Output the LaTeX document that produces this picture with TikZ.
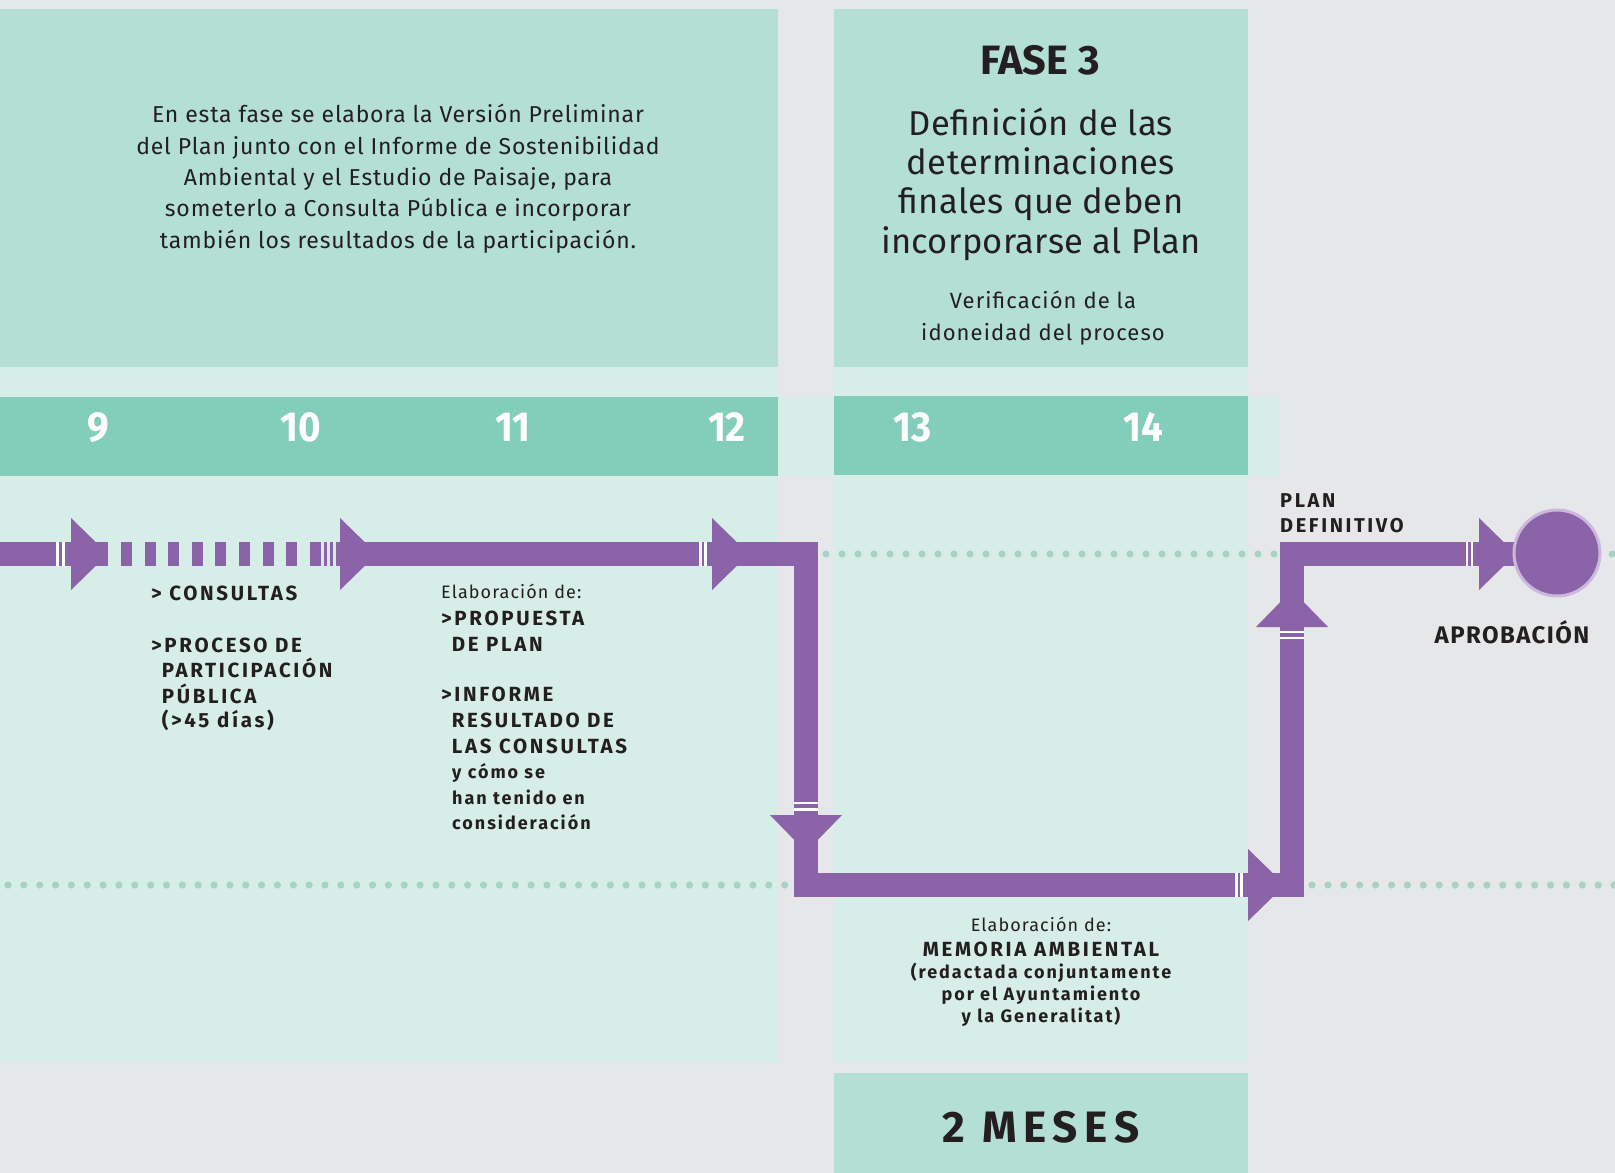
\documentclass[tikz,border=0pt]{standalone}
\usepackage{fontspec}
\setmainfont{Fira Sans}
\newfontfamily\lbl{Fira Sans}[LetterSpace=13]
\newfontfamily\lbls{Fira Sans}[LetterSpace=11]
\newfontfamily\bodyf{Fira Sans}[LetterSpace=3.5]
\newfontfamily\verf{Fira Sans}[LetterSpace=5]
\newfontfamily\bigf{Fira Sans}[LetterSpace=1]
\newfontfamily\mesf{Fira Sans}[LetterSpace=15]
\newfontfamily\elabf{Fira Sans}[LetterSpace=6]
\definecolor{bg}{HTML}{E6E7E9}
\definecolor{mint}{HTML}{B3DFD5}
\definecolor{pale}{HTML}{D7EDE7}
\definecolor{band}{HTML}{83CDBB}
\definecolor{purp}{HTML}{8A63A8}
\definecolor{lav}{HTML}{CDB8DD}
\definecolor{dotc}{HTML}{A6D4C4}
\definecolor{ink}{HTML}{231F20}
\newcommand\arrowRt[2]{\fill[purp] (#1,#2-36) -- (#1+37,#2) -- (#1,#2+36) -- cycle;}
\newcommand\arrowDn[2]{\fill[purp] (#1-36,#2) -- (#1,#2+37) -- (#1+36,#2) -- cycle;}
\newcommand\arrowUp[2]{\fill[purp] (#1-36,#2) -- (#1,#2-37) -- (#1+36,#2) -- cycle;}
\newcommand\gapV[2]{\fill[white] (#1,542) rectangle (#2,566);}
\begin{document}
\begin{tikzpicture}[x=1pt,y=-1pt,
  txt/.style={inner sep=0pt, text=ink},
  body/.style={txt, font=\fontsize{23}{31.4}\selectfont\bodyf},
  big/.style={txt, font=\fontsize{34.5}{39.4}\selectfont\bigf},
  lab/.style={txt, font=\fontsize{20.5}{25.8}\selectfont\lbl\bfseries},
  labs/.style={txt, font=\fontsize{18}{25.8}\selectfont\lbls\bfseries},
  small/.style={txt, font=\fontsize{18}{25.8}\selectfont\elabf},
  num/.style={inner sep=0pt, text=white, font=\fontsize{42}{42}\selectfont\bfseries},
  dot/.style={fill=dotc},
  flow/.style={draw=purp, line width=24pt, line join=miter}
]
\useasboundingbox (0,0) rectangle (1615,1173);
% backgrounds
\fill[bg] (0,0) rectangle (1615,1173);
\fill[mint] (0,9) rectangle (778,367);
\fill[mint] (834,9) rectangle (1248,367);
\fill[pale] (0,367) rectangle (778,1062);
\fill[pale] (834,367) rectangle (1248,1062);
\fill[pale] (778,397) rectangle (1279,476);
\fill[band] (0,397) rectangle (778,476);
\fill[band] (834,396) rectangle (1248,475);
\fill[mint] (834,1073) rectangle (1248,1173);
% dotted guides
\foreach \i in {0,...,28} \fill[dot] (826+16*\i,554) circle (3.6);
\fill[dot] (1612,554) circle (3.6);
\foreach \i in {0,...,49} \fill[dot] (8+15.85*\i,885) circle (3.6);
\foreach \i in {0,...,19} \fill[dot] (1312+15.9*\i,885) circle (3.6);
% numbers
\foreach \x/\n in {98/9, 301/10, 513/11, 727/12, 913/13, 1143/14}
  \node[num, anchor=base] (n\n) at (\x,441) {\scalebox{0.92}[1]{\n}};
% flow path
\coordinate (s0) at (0,554);
\coordinate (s1) at (108,554);
\coordinate (s2) at (336,554);
\coordinate (c1) at (806,554);
\coordinate (c2) at (806,885);
\coordinate (c3) at (1292,885);
\coordinate (c4) at (1292,554);
\coordinate (e0) at (1515,554);
\draw[flow] (s0) -- (s1);
\foreach \i in {0,...,8} \fill[purp] (121+23.6*\i,542) rectangle (132+23.6*\i,566);
\fill[purp] (324,542) rectangle (327,566);
\fill[purp] (330,542) rectangle (333,566);
\draw[flow] (s2) -- (c1) -- (c2) -- (c3) -- (c4) -- (e0);
% marks and arrowheads
\gapV{56}{59}\gapV{62}{65}
\arrowRt{71}{554}
\arrowRt{340}{554}
\gapV{699}{701.7}\gapV{704.3}{707}
\arrowRt{712}{554}
\fill[white] (794,801.7) rectangle (818,804.3);
\fill[white] (794,807.7) rectangle (818,810.7);
\arrowDn{806}{815}
\fill[white] (1235,873) rectangle (1237.5,897);
\fill[white] (1240,873) rectangle (1242.5,897);
\arrowRt{1248}{885}
\fill[white] (1280,630.7) rectangle (1304,633.3);
\fill[white] (1280,636.7) rectangle (1304,639.3);
\arrowUp{1292}{627}
\gapV{1466}{1468.3}\gapV{1471}{1473.3}
\arrowRt{1479}{554}
\node[circle, fill=purp, draw=lav, line width=3pt, minimum size=86pt, inner sep=0pt] (aprob) at (1557,553) {};
% top-left paragraph
\foreach \t [count=\i] in {{En esta fase se elabora la Versión Preliminar},{del Plan junto con el Informe de Sostenibilidad},{Ambiental y el Estudio de Paisaje, para},{someterlo a Consulta Pública e incorporar},{también los resultados de la participación.}}
  \node[body, anchor=base] (intro\i) at (398,122.7+31.4*\i-31.4) {\t};
% FASE 3
\node[txt, anchor=base, font=\fontsize{41}{41}\selectfont\bfseries] (fase) at (1040,74) {\scalebox{1.01}[1]{FASE 3}};
\foreach \t [count=\i] in {{Definición de las},{determinaciones},{finales que deben},{incorporarse al Plan}}
  \node[big, anchor=base] (def\i) at (1041,135+39.4*\i-39.4) {\t};
\node[txt, anchor=base, font=\fontsize{22}{32}\selectfont\verf] (ver1) at (1043,308) {Verificación de la};
\node[txt, anchor=base, font=\fontsize{22}{32}\selectfont\verf] (ver2) at (1043,340) {idoneidad del proceso};
% left labels
\node[lab, anchor=base west] (l1) at (151,600) {> CONSULTAS};
\node[lab, anchor=base west] (l2) at (151,652) {>PROCESO DE};
\node[lab, anchor=base west] (l3) at (151,677) {\hphantom{>}PARTICIPACIÓN};
\node[lab, anchor=base west] (l4) at (151,703) {\hphantom{>}PÚBLICA};
\node[lab, anchor=base west] (l5) at (151,727) {\hphantom{>}(>45 días)};
% middle labels
\node[small, anchor=base west] (m0) at (441,598) {Elaboración de:};
\node[lab, anchor=base west] (m1) at (441,625) {>PROPUESTA};
\node[lab, anchor=base west] (m2) at (441,651) {\hphantom{>}DE PLAN};
\node[lab, anchor=base west] (m3) at (441,701) {>INFORME};
\node[lab, anchor=base west] (m4) at (441,727) {\hphantom{>}RESULTADO DE};
\node[lab, anchor=base west] (m5) at (441,753) {\hphantom{>}LAS CONSULTAS};
\node[labs, anchor=base west] (m6) at (452,778) {y cómo se};
\node[labs, anchor=base west] (m7) at (452,804) {han tenido en};
\node[labs, anchor=base west] (m8) at (452,829) {consideración};
% bottom labels
\node[small, anchor=base] (b0) at (1041,931) {Elaboración de:};
\node[lab, anchor=base] (b1) at (1041,956) {MEMORIA AMBIENTAL};
\node[labs, anchor=base] (b2) at (1041,978) {(redactada conjuntamente};
\node[labs, anchor=base] (b3) at (1041,1000) {por el Ayuntamiento};
\node[labs, anchor=base] (b4) at (1041,1022) {y la Generalitat)};
\node[txt, anchor=base, font=\fontsize{44}{44}\selectfont\mesf\bfseries] (meses) at (1041,1142) {2 MESES};
% right labels
\node[lab, anchor=base west, font=\fontsize{20}{25}\selectfont\lbl\bfseries] (p1) at (1280,507) {PLAN};
\node[lab, anchor=base west, font=\fontsize{20}{25}\selectfont\lbl\bfseries] (p2) at (1280,532) {DEFINITIVO};
\node[lab, anchor=base, font=\fontsize{24}{24}\selectfont\elabf\bfseries] (ap) at (1512,643) {APROBACIÓN};
\end{tikzpicture}
\end{document}
